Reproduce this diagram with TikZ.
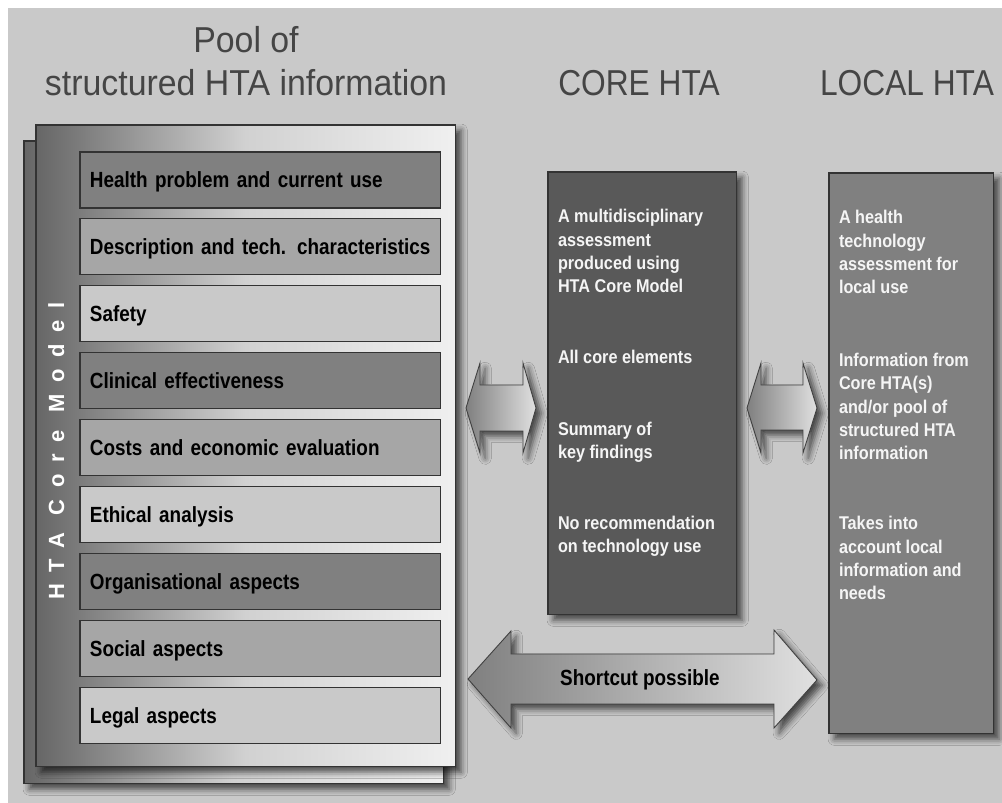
\documentclass[tikz,border=0pt]{standalone}
\usepackage{fontspec}
\setmainfont{Liberation Sans}
\newfontfamily\titlefont[FakeStretch=0.94]{Liberation Sans}
\newfontfamily\capsfont[FakeStretch=0.88]{Liberation Sans}
\newfontfamily\rowfont[FakeStretch=0.86]{Liberation Sans Bold}
\newfontfamily\boxfont[FakeStretch=0.88]{Liberation Sans Bold}
\newfontfamily\spinefont[LetterSpace=53]{Liberation Sans Bold}
\usetikzlibrary{calc,shadows.blur}
\newcommand{\toneCanvas}{black!21}
\newcommand{\toneHead}{black!73}
\newcommand{\toneDark}{black!50}
\newcommand{\toneMid}{black!35}
\newcommand{\toneLight}{black!21}
\newcommand{\toneCore}{black!65}
\newcommand{\toneLocal}{black!50}
\newcommand{\toneEdge}{black!80}

\begin{document}
\begin{tikzpicture}[x=0.02cm,y=-0.02cm,inner sep=0pt,outer sep=0pt,
	softshadow/.style={blur shadow={shadow xshift=3pt,shadow yshift=-3pt,shadow blur radius=3.5pt,shadow opacity=65}},
	panel/.style={draw=\toneEdge,line width=0.6pt,anchor=north west,minimum width=8.4cm,
		left color=black!60,right color=black!6,middle color=black!18,softshadow},
	topic/.style={draw=\toneEdge,line width=0.6pt,anchor=north west,minimum width=7.22cm,minimum height=1.12cm,
		text width=6.82cm,inner xsep=0.2cm,align=left,text height=0.32cm,text depth=0pt,
		font=\rowfont\fontsize{12.5}{14}\selectfont},
	htabox/.style={draw=\toneEdge,line width=0.6pt,anchor=north west,softshadow},
	boxtext/.style={anchor=base west,align=left,text=black!4,font=\boxfont\fontsize{10.5}{13.3}\selectfont},
	bigarrow/.style={draw=black!75,line width=0.5pt,left color=black!50,right color=black!12,softshadow},
	heading/.style={text=\toneHead,anchor=base}]
	\useasboundingbox (0,0) rectangle (1002,803);
	\fill[white] (0,0) rectangle (1002,803);
	\fill[\toneCanvas] (8,8) rectangle (1002,803);

	% column headings (base = last line)
	\node[heading,align=center,font=\titlefont\fontsize{20.5}{25}\selectfont] (pooltitle) at (246,96) {Pool of\\structured HTA information};
	\node[heading,font=\capsfont\fontsize{20.5}{25}\selectfont] (coretitle) at (639,96) {CORE HTA};
	\node[heading,font=\capsfont\fontsize{20.5}{25}\selectfont] (localtitle) at (907,96) {LOCAL HTA};

	% pool of structured information
	\node[panel,minimum height=12.86cm] (backpanel) at (24,141) {};
	\node[panel,minimum height=12.84cm] (frontpanel) at (36,125) {};
	\foreach \lbl/\tone [count=\i] in {Health problem and current use/\toneDark,
		Description and tech. characteristics/\toneMid, Safety/\toneLight,
		Clinical effectiveness/\toneDark, Costs and economic evaluation/\toneMid,
		Ethical analysis/\toneLight, Organisational aspects/\toneDark,
		Social aspects/\toneMid, Legal aspects/\toneLight}
		\node[topic,fill=\tone] (topic\i) at (80,{152+66.9*(\i-1)}) {\mbox{\lbl}};
	\node[rotate=90,anchor=base,text=white,font=\spinefont\fontsize{12.5}{14}\selectfont] (spine) at (64,451) {HTA Core Model};

	% core and local HTA
	\node[htabox,fill=\toneCore,minimum width=3.78cm,minimum height=8.86cm] (core) at (548,172) {};
	\node[htabox,fill=\toneLocal,minimum width=3.3cm,minimum height=11.22cm] (local) at (829,173) {};
	\node[boxtext] (coreA) at (558,293) {A multidisciplinary\\assessment\\produced using\\HTA Core Model};
	\node[boxtext] (coreB) at (558,364) {All core elements};
	\node[boxtext] (coreC) at (558,459) {Summary of\\key findings};
	\node[boxtext] (coreD) at (558,553) {No recommendation\\on technology use};
	\node[boxtext] (localA) at (839,294) {A health\\technology\\assessment for\\local use};
	\node[boxtext] (localB) at (839,460) {Information from\\Core HTA(s)\\and/or pool of\\structured HTA\\information};
	\node[boxtext] (localC) at (839,600) {Takes into\\account local\\information and\\needs};

	% two-way arrows
	\path[bigarrow] (466,408) -- (480,363) -- (480,385) -- (523,385) -- (523,363) -- (536,408)
		-- (523,453) -- (523,431) -- (480,431) -- (480,453) -- cycle;
	\path[bigarrow] (747,408) -- (761,363) -- (761,385) -- (803,385) -- (803,363) -- (817,408)
		-- (803,453) -- (803,430) -- (761,430) -- (761,453) -- cycle;
	\path[bigarrow] (468,679) -- (511,631) -- (511,654) -- (774,654) -- (774,630) -- (817,680)
		-- (774,728) -- (774,704) -- (511,704) -- (511,728) -- cycle;
	\node[anchor=base,font=\rowfont\fontsize{12.5}{14}\selectfont] (shortcut) at (640,686) {Shortcut possible};
\end{tikzpicture}
\end{document}
